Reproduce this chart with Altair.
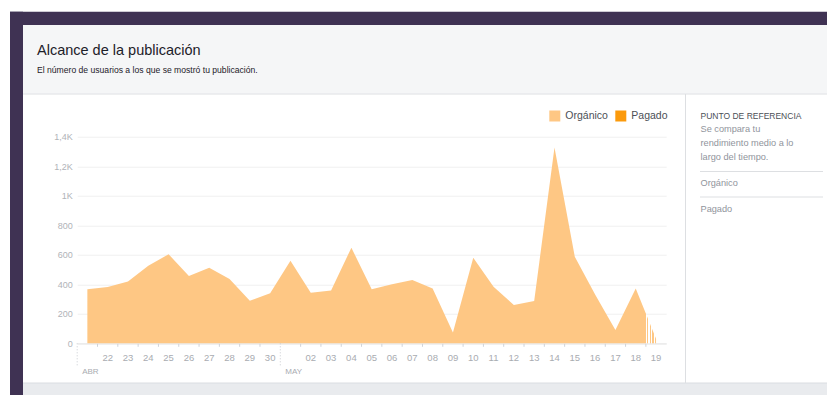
import altair as alt
import pandas as pd

# ---------------- data ----------------
fechas = [
    "2015-04-21", "2015-04-22", "2015-04-23", "2015-04-24", "2015-04-25",
    "2015-04-26", "2015-04-27", "2015-04-28", "2015-04-29", "2015-04-30",
    "2015-05-01", "2015-05-02", "2015-05-03", "2015-05-04", "2015-05-05",
    "2015-05-06", "2015-05-07", "2015-05-08", "2015-05-09", "2015-05-10",
    "2015-05-11", "2015-05-12", "2015-05-13", "2015-05-14", "2015-05-15",
    "2015-05-16", "2015-05-17", "2015-05-18", "2015-05-19",
]
alcance_organico = [
    366, 381, 418, 526, 603, 456, 512, 436, 289, 339,
    560, 343, 357, 648, 366, 400, 429, 372, 74, 580,
    384, 260, 287, 1327, 587, 330, 90, 372, 30,
]
series = ["Orgánico", "Pagado"]
colores_series = ["#fec784", "#fb9a0c"]

meses = ["ABR", "MAY"]
inicio_mes = ["2015-04-21", "2015-05-01"]

y_valores = [0, 200, 400, 600, 800, 1000, 1200, 1400]
y_etiquetas = ["0", "200", "400", "600", "800", "1K", "1,2K", "1,4K"]

titulo = "Alcance de la publicación"
subtitulo = "El número de usuarios a los que se mostró tu publicación."
panel_titulo = "PUNTO DE REFERENCIA"
panel_texto = ["Se compara tu", "rendimiento medio a lo", "largo del tiempo."]
panel_items = ["Orgánico", "Pagado"]

# ---------------- layout (page pixel geometry) ----------------
FONT = "Liberation Sans"
PLOT_LEFT, PLOT_TOP = 77.2, 136.7      # page coords of plot origin
W, H = 589, 206.6
CANVAS_W, CANVAS_H = 819, 387
PAD_L, PAD_T = PLOT_LEFT - 8, PLOT_TOP - 8
PAD_R = CANVAS_W - PAD_L - W
PAD_B = CANVAS_H - PAD_T - H
step = W / len(fechas)
half = step / 2


def P(x):
    return x - PLOT_LEFT


def Q(y):
    return y - PLOT_TOP


one = pd.DataFrame({"k": [0]})
base1 = alt.Chart(one)


def rect(x1, x2, y1, y2, color):
    return base1.mark_rect(color=color).encode(
        x=alt.value(P(x1)), x2=alt.value(P(x2)),
        y=alt.value(Q(y1)), y2=alt.value(Q(y2)))


def txt(s, x, y, size, color, weight="normal", align="left"):
    return alt.Chart(pd.DataFrame({"t": [s]})).mark_text(
        align=align, baseline="middle", font=FONT, fontSize=size,
        color=color, fontWeight=weight,
    ).encode(x=alt.value(P(x)), y=alt.value(Q(y)), text="t:N")


def hline(x1, x2, y, color):
    return base1.mark_rule(color=color, strokeWidth=1).encode(
        x=alt.value(P(x1)), x2=alt.value(P(x2)), y=alt.value(Q(y)))


PURPLE = "#3f3253"
deco = [
    rect(10, 827, 11.7, 25, PURPLE),
    rect(10, 23, 11.7, 395, PURPLE),
    rect(23, 827, 25, 93.5, "#f5f6f7"),
    hline(23, 827, 94, "#dddfe2"),
    rect(23, 827, 383, 395, "#e9ebee"),
    hline(23, 827, 383, "#dadde1"),
    base1.mark_rule(color="#dddfe2").encode(
        x=alt.value(P(685.5)), y=alt.value(Q(94)), y2=alt.value(Q(383))),
]

texts = [
    txt(titulo, 37, 51, 14.5, "#1d2129"),
    txt(subtitulo, 37, 70, 8.6, "#1d2129"),
    txt(panel_titulo, 700.5, 115.5, 8.5, "#4b4f56"),
]
for i, s in enumerate(panel_texto):
    texts.append(txt(s, 700.5, 128.5 + 14 * i, 9.2, "#90949c"))
texts.append(hline(700, 823, 171.5, "#dddfe2"))
texts.append(txt(panel_items[0], 700.5, 183, 9.2, "#90949c"))
texts.append(hline(700, 823, 197, "#dddfe2"))
texts.append(txt(panel_items[1], 700.5, 208.5, 9.2, "#90949c"))

# ---------------- chart data ----------------
df = pd.DataFrame({"fecha": fechas, "alcance": alcance_organico})
fechas_etiqueta = [f for f in fechas if f not in inicio_mes]
df_ticks = pd.DataFrame({"fecha": fechas_etiqueta,
                         "dia": [f[-2:] for f in fechas_etiqueta]})
df_meses = pd.DataFrame({"fecha": inicio_mes, "mes": meses})
df_series = pd.DataFrame({"serie": series})

t0 = pd.Timestamp(fechas[0]) - pd.Timedelta(hours=12)
t1 = pd.Timestamp(fechas[-1]) + pd.Timedelta(hours=12)
x_scale = alt.Scale(type="utc", domain=[int(t0.timestamp() * 1000), int(t1.timestamp() * 1000)])

# hatched final half-interval (incomplete day)
n = len(fechas)
h0 = (n - 1.5) / (n - 1)
stops = [alt.GradientStop(color=colores_series[0], offset=0),
         alt.GradientStop(color=colores_series[0], offset=h0)]
k = 4
for j in range(k):
    a = h0 + (1 - h0) * j / k
    m = a + (1 - h0) / k * 0.45
    b = h0 + (1 - h0) * (j + 1) / k
    stops += [alt.GradientStop(color="#ffffff", offset=a), alt.GradientStop(color="#ffffff", offset=m),
              alt.GradientStop(color=colores_series[0], offset=m), alt.GradientStop(color=colores_series[0], offset=b)]
grad = alt.Gradient(gradient="linear", stops=stops, x1=0, x2=1, y1=0, y2=0)

x_axis = alt.Axis(
    labels=False, ticks=False, grid=False, domain=True, domainColor="#e6e6e6",
    title=None,
)
y_expr = "[" + ",".join("'%s'" % s for s in y_etiquetas) + "][indexof([" + \
    ",".join(str(v) for v in y_valores) + "], datum.value)]"
y_axis = alt.Axis(
    values=y_valores, labelExpr=y_expr, ticks=False, domain=False,
    grid=True, gridColor="#f0f0f0", labelFont=FONT, labelFontSize=9,
    labelColor="#b0b3b8", labelPadding=5, labelOverlap=False, title=None,
)

area = alt.Chart(df).mark_area(color=grad, interpolate="linear").encode(
    x=alt.X("fecha:T", scale=x_scale, axis=x_axis),
    y=alt.Y("alcance:Q", scale=alt.Scale(domain=[0, 1400], nice=False), axis=y_axis),
)

ticks = alt.Chart(df_ticks).mark_rule(color="#d0d3d8", xOffset=-half).encode(
    x=alt.X("fecha:T", scale=x_scale),
    y=alt.value(H + 0.5), y2=alt.value(H + 3.5),
)
dias = alt.Chart(df_ticks).mark_text(
    align="center", baseline="middle", font=FONT, fontSize=9.5, color="#a9acb1"
).encode(x=alt.X("fecha:T", scale=x_scale), y=alt.value(Q(357.5)), text="dia:N")
mes_lineas = alt.Chart(df_meses).mark_rule(
    color="#c9ccd1", strokeDash=[1, 2], xOffset=-half
).encode(x=alt.X("fecha:T", scale=x_scale), y=alt.value(H), y2=alt.value(Q(367)))
mes_textos = alt.Chart(df_meses).mark_text(
    align="left", baseline="middle", dx=-half + 5, font=FONT, fontSize=8, color="#a9acb1"
).encode(x=alt.X("fecha:T", scale=x_scale), y=alt.value(Q(372)), text="mes:N")

leyenda = alt.Chart(df_series).mark_rect().encode(
    x=alt.value(0), x2=alt.value(0), y=alt.value(0), y2=alt.value(0),
    color=alt.Color(
        "serie:N",
        scale=alt.Scale(domain=series, range=colores_series),
        legend=alt.Legend(
            orient="none", legendX=P(549.3), legendY=Q(110.5), direction="horizontal",
            title=None, symbolType="square", symbolSize=121, symbolStrokeWidth=0,
            labelFont=FONT, labelFontSize=10.5, labelColor="#4b4f56",
            columnPadding=7, labelOffset=5,
        ),
    ),
)

chart = alt.layer(
    *deco, area, ticks, dias, mes_lineas, mes_textos, leyenda, *texts
).properties(
    width=W, height=H,
    autosize=alt.AutoSizeParams(type="none"),
    padding={"left": PAD_L, "top": PAD_T, "right": PAD_R, "bottom": PAD_B},
    background="white",
).configure_view(stroke=None)

chart.save("out.html", embed_options={"renderer": "svg", "actions": False})
